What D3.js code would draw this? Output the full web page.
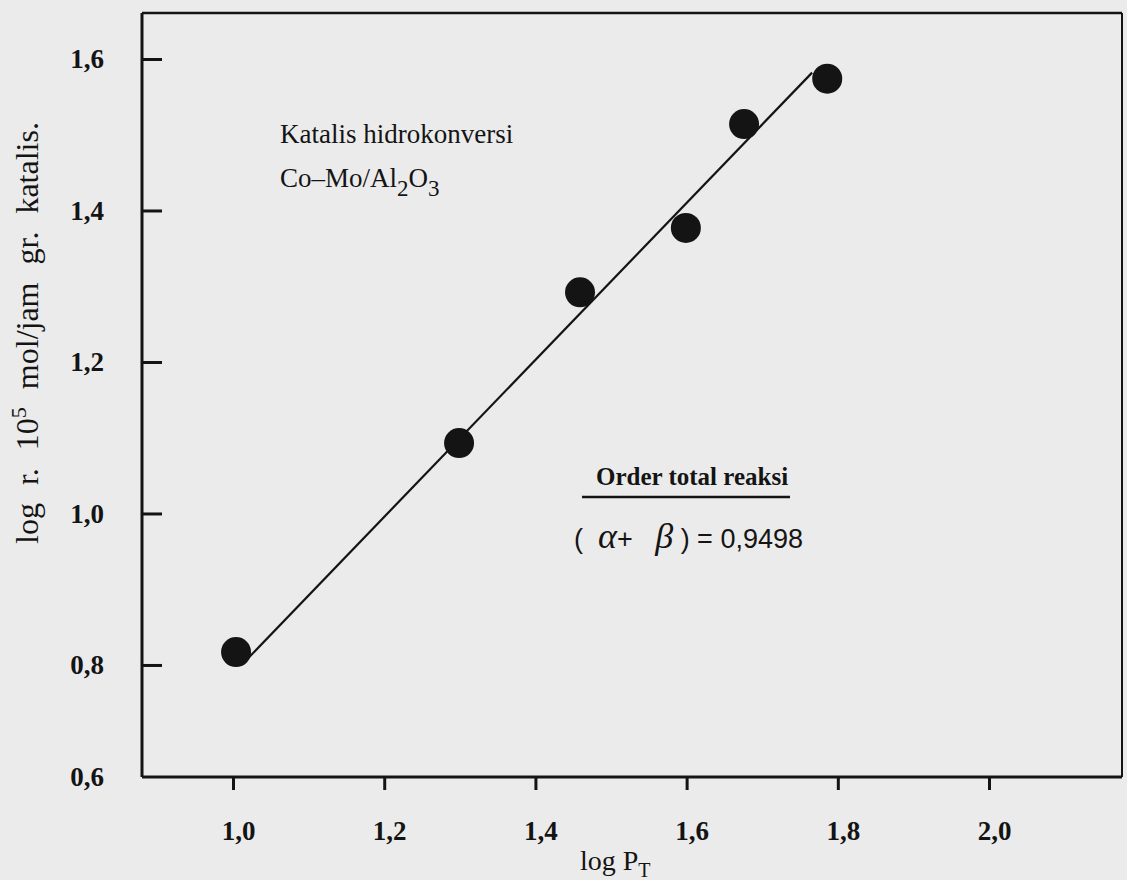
<!DOCTYPE html>
<html>
<head>
<meta charset="utf-8">
<script src="https://cdn.jsdelivr.net/npm/d3@7"></script>
<style>
  body { margin: 0; background: #ebebeb; }
  svg { display: block; }
</style>
</head>
<body>
<div id="chart"></div>
<script>
// data (log P_T vs log r.10^5)
var logPT = [1.004, 1.299, 1.459, 1.599, 1.676, 1.786];
var logR = [0.817, 1.093, 1.292, 1.377, 1.514, 1.574];
// hand drawn fit line ends
var fitX = [1.02, 1.766];
var fitY = [0.809, 1.582];
var xTicks = [1.0, 1.2, 1.4, 1.6, 1.8, 2.0];
var yTicks = [0.8, 1.0, 1.2, 1.4, 1.6];
var yFloorLabel = "0,6";

var margin = { top: 13, right: 5, bottom: 103, left: 142 },
    width = 1127 - margin.left - margin.right,
    height = 880 - margin.top - margin.bottom;

var ink = "#141414";
var serif = "'Liberation Serif', 'DejaVu Serif', serif";

var svg = d3.select("#chart")
    .append("svg")
    .attr("width", 1127)
    .attr("height", 880)
    .style("background", "#ebebeb")
    .append("g")
    .attr("transform", "translate(" + margin.left + "," + margin.top + ")");

var x = d3.scaleLinear()
    .domain([0.8796, 2.1759])
    .range([0, width]);

var y = d3.scaleLinear()
    .domain([0.6521, 1.6607])
    .range([height, 0]);

var comma = function (d) { return d3.format(".1f")(d).replace(".", ","); };

// frame
svg.append("line").attr("x1", 0).attr("x2", width).attr("y1", 0).attr("y2", 0)
    .attr("stroke", ink).attr("stroke-width", 2.5);
svg.append("line").attr("x1", width).attr("x2", width).attr("y1", 0).attr("y2", height)
    .attr("stroke", ink).attr("stroke-width", 2);

// y axis, ticks point into the plot
var yAxis = svg.append("g")
    .call(d3.axisLeft(y).tickValues(yTicks).tickSizeInner(-20).tickSizeOuter(0)
        .tickPadding(38).tickFormat(comma));
yAxis.select(".domain").remove();
yAxis.selectAll("line").attr("stroke", ink).attr("stroke-width", 3);
yAxis.selectAll("text")
    .attr("fill", ink)
    .style("font-family", serif).style("font-size", "27px").style("font-weight", "bold");

yAxis.append("text")
    .attr("x", -38).attr("y", height).attr("dy", "0.32em")
    .attr("text-anchor", "end")
    .attr("fill", ink)
    .style("font-family", serif).style("font-size", "27px").style("font-weight", "bold")
    .text(yFloorLabel);

// x axis
var xAxis = svg.append("g")
    .attr("transform", "translate(0," + height + ")")
    .call(d3.axisBottom(x).tickValues(xTicks).tickSizeInner(13).tickSizeOuter(0)
        .tickPadding(31).tickFormat(comma));
xAxis.select(".domain").remove();
xAxis.selectAll("line").attr("stroke", ink).attr("stroke-width", 3);
xAxis.selectAll("text")
    .attr("dx", 5)
    .attr("fill", ink)
    .style("font-family", serif).style("font-size", "27px").style("font-weight", "bold");

svg.append("line").attr("x1", 0).attr("x2", width).attr("y1", height).attr("y2", height)
    .attr("stroke", ink).attr("stroke-width", 3);
svg.append("line").attr("x1", 0).attr("x2", 0).attr("y1", 0).attr("y2", height)
    .attr("stroke", ink).attr("stroke-width", 3);

// fit line
var line = d3.line()
    .x(function (d) { return x(d[0]) })
    .y(function (d) { return y(d[1]) });
svg.append("path")
    .datum(d3.zip(fitX, fitY))
    .attr("d", line)
    .attr("fill", "none")
    .attr("stroke", ink)
    .attr("stroke-width", 2.2);

// points
svg.append("g")
    .selectAll("circle")
    .data(d3.zip(logPT, logR))
    .enter()
    .append("circle")
    .attr("cx", function (d) { return x(d[0]) })
    .attr("cy", function (d) { return y(d[1]) })
    .attr("r", 15)
    .style("fill", ink);

// axis titles
var ylab = svg.append("text")
    .attr("transform", "translate(" + (-104) + "," + 320 + ") rotate(-90)")
    .attr("text-anchor", "middle")
    .attr("fill", ink)
    .style("font-family", serif).style("font-size", "32px")
    .style("word-spacing", "10px");
ylab.append("tspan").text("log r. 10");
ylab.append("tspan").attr("baseline-shift", "super").style("font-size", "22px").text("5");
ylab.append("tspan").text(" mol/jam gr. katalis.");

var xlab = svg.append("text")
    .attr("x", 438).attr("y", height + 93)
    .attr("fill", ink)
    .style("font-family", serif).style("font-size", "28px");
xlab.append("tspan").text("log P");
xlab.append("tspan").attr("dy", 7).style("font-size", "20px").text("T");

// annotation: catalyst
var note = svg.append("g").attr("transform", "translate(138,130)")
    .attr("fill", ink).style("font-family", serif).style("font-size", "27px");
note.append("text").attr("y", 0).text("Katalis hidrokonversi");
var formula = note.append("text").attr("y", 44);
formula.append("tspan").text("Co\u2013Mo/Al");
formula.append("tspan").attr("dy", 9).style("font-size", "23px").text("2");
formula.append("tspan").attr("dy", -9).text("O");
formula.append("tspan").attr("dy", 9).style("font-size", "23px").text("3");

// annotation: total order
var order = svg.append("g").attr("transform", "translate(454,472)").attr("fill", ink);
order.append("text").attr("x", 0).attr("y", 0)
    .style("font-family", serif).style("font-size", "25px").style("font-weight", "bold")
    .text("Order total reaksi");
order.append("line").attr("x1", -14).attr("x2", 194).attr("y1", 12).attr("y2", 12)
    .attr("stroke", ink).attr("stroke-width", 2.5);
var eq = order.append("text").attr("x", -22).attr("y", 63)
    .style("font-family", "'Liberation Sans', sans-serif").style("font-size", "27px")
    .style("white-space", "pre");
eq.append("tspan").text("(  ");
eq.append("tspan").style("font-family", serif).style("font-style", "italic").style("font-size", "36px").text("\u03b1");
eq.append("tspan").text("+   ");
eq.append("tspan").style("font-family", serif).style("font-style", "italic").style("font-size", "36px").text("\u03b2");
eq.append("tspan").text(" ) = 0,9498");
</script>
</body>
</html>
